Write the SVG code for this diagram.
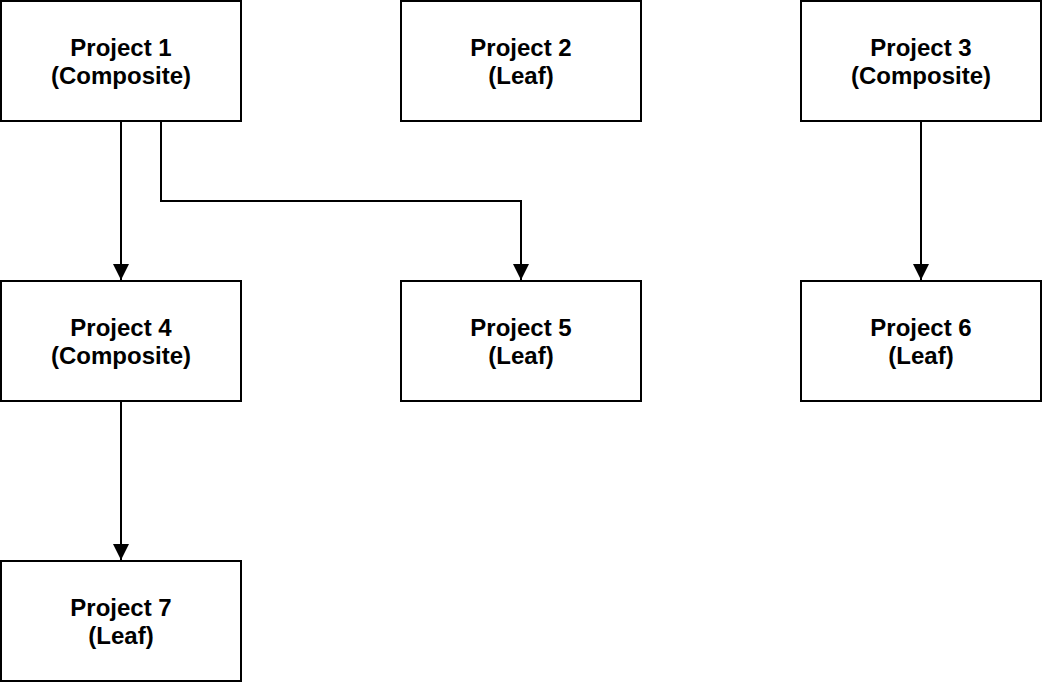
<svg xmlns="http://www.w3.org/2000/svg" width="1042" height="682" viewBox="0 0 1042 682">
  <style>
    .box { fill: #ffffff; stroke: #000000; stroke-width: 2; }
    .lbl { font-family: "Liberation Sans", Arial, Helvetica, sans-serif; font-size: 24px; font-weight: bold; fill: #000000; text-anchor: middle; }
    .edge { fill: none; stroke: #000000; stroke-width: 2; }
  </style>
  <defs>
    <marker id="arrow" markerWidth="16" markerHeight="16" viewBox="0 0 16 16" refX="16" refY="8" orient="auto" markerUnits="userSpaceOnUse">
      <path d="M0,0 L16,8 L0,16 Z" fill="#000000"/>
    </marker>
  </defs>
  <rect width="1042" height="682" fill="#ffffff"/>

  <g id="connectors">
    <path class="edge" d="M121,121 V280" marker-end="url(#arrow)"/>
    <path class="edge" d="M161,121 V201 H521 V280" marker-end="url(#arrow)"/>
    <path class="edge" d="M921,121 V280" marker-end="url(#arrow)"/>
    <path class="edge" d="M121,401 V560" marker-end="url(#arrow)"/>
  </g>

  <g id="project1">
    <rect class="box" x="1" y="1" width="240" height="120"/>
    <text class="lbl" x="121" y="56">Project 1</text>
    <text class="lbl" x="121" y="84">(Composite)</text>
  </g>
  <g id="project2">
    <rect class="box" x="401" y="1" width="240" height="120"/>
    <text class="lbl" x="521" y="56">Project 2</text>
    <text class="lbl" x="521" y="84">(Leaf)</text>
  </g>
  <g id="project3">
    <rect class="box" x="801" y="1" width="240" height="120"/>
    <text class="lbl" x="921" y="56">Project 3</text>
    <text class="lbl" x="921" y="84">(Composite)</text>
  </g>
  <g id="project4">
    <rect class="box" x="1" y="281" width="240" height="120"/>
    <text class="lbl" x="121" y="336">Project 4</text>
    <text class="lbl" x="121" y="364">(Composite)</text>
  </g>
  <g id="project5">
    <rect class="box" x="401" y="281" width="240" height="120"/>
    <text class="lbl" x="521" y="336">Project 5</text>
    <text class="lbl" x="521" y="364">(Leaf)</text>
  </g>
  <g id="project6">
    <rect class="box" x="801" y="281" width="240" height="120"/>
    <text class="lbl" x="921" y="336">Project 6</text>
    <text class="lbl" x="921" y="364">(Leaf)</text>
  </g>
  <g id="project7">
    <rect class="box" x="1" y="561" width="240" height="120"/>
    <text class="lbl" x="121" y="616">Project 7</text>
    <text class="lbl" x="121" y="644">(Leaf)</text>
  </g>
</svg>
